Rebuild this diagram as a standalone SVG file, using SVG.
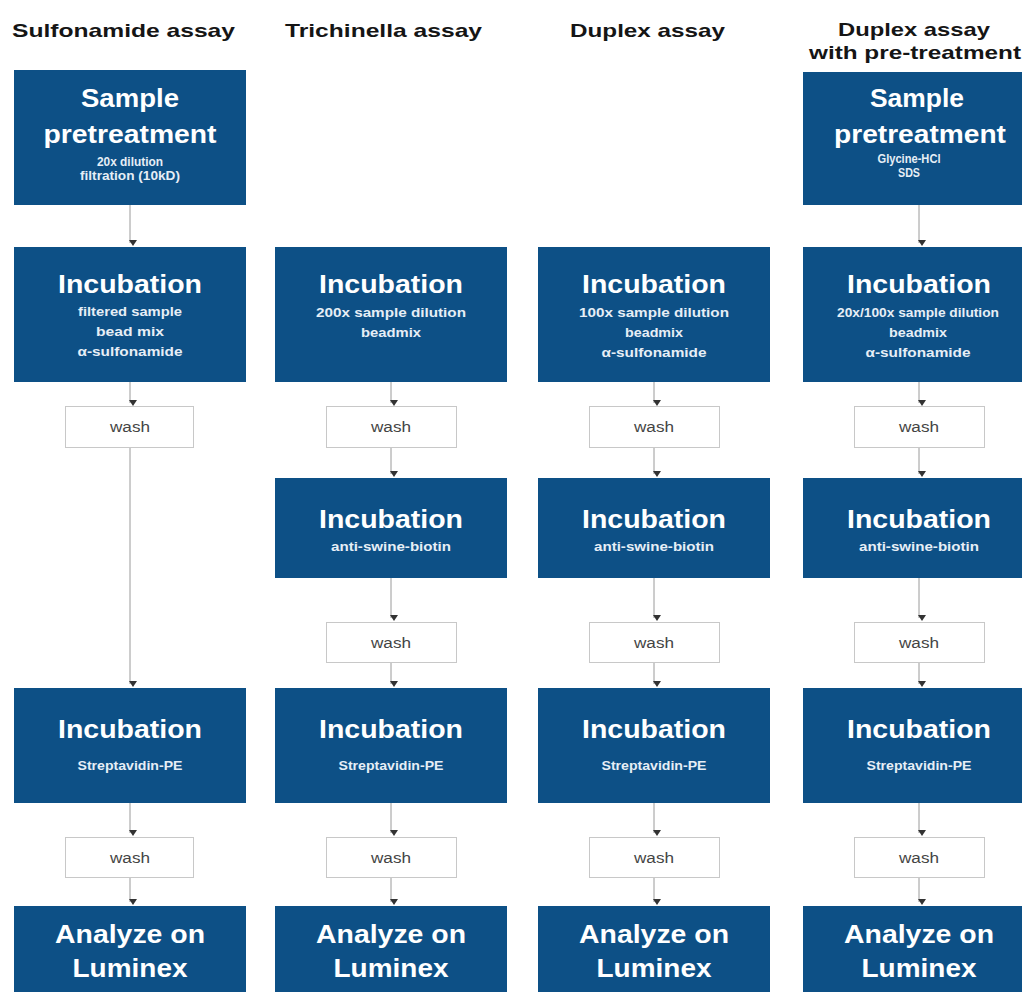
<svg xmlns="http://www.w3.org/2000/svg" width="1022" height="992" viewBox="0 0 1022 992">
<style>
.hd{font-family:"Liberation Sans",Arial,sans-serif;font-weight:bold;font-size:19px;fill:#151515;text-anchor:middle}
.box{fill:#0d5086}
.wb{fill:#ffffff;stroke:#c8c8c8;stroke-width:1}
.t{font-family:"Liberation Sans",Arial,sans-serif;font-weight:bold;font-size:26px;fill:#ffffff;text-anchor:middle}
.s{font-family:"Liberation Sans",Arial,sans-serif;font-weight:bold;font-size:12px;fill:#e6eef6;text-anchor:middle}
.w{font-family:"Liberation Sans",Arial,sans-serif;font-size:14px;fill:#444444;text-anchor:middle}
.c{stroke:#9a9a9a;stroke-width:1;fill:none;marker-end:url(#ah)}
</style>
<defs>
<marker id="ah" markerUnits="userSpaceOnUse" markerWidth="8" markerHeight="8" viewBox="0 0 8 8" refX="4" refY="7" orient="auto-start-reverse">
<path d="M0,1 L8,1 L4,7 Z" fill="#333333" transform="rotate(-90 4 4)"/>
</marker>
</defs>
<rect width="1022" height="992" fill="#ffffff"/>

<g id="headers">
<text class="hd" x="123.5" y="37" textLength="223" lengthAdjust="spacingAndGlyphs">Sulfonamide assay</text>
<text class="hd" x="383.5" y="37" textLength="197" lengthAdjust="spacingAndGlyphs">Trichinella assay</text>
<text class="hd" x="647.5" y="37" textLength="155" lengthAdjust="spacingAndGlyphs">Duplex assay</text>
<text class="hd" x="914" y="36" textLength="152" lengthAdjust="spacingAndGlyphs">Duplex assay</text>
<text class="hd" x="915" y="59" textLength="212" lengthAdjust="spacingAndGlyphs">with pre-treatment</text>
</g>

<g id="connectors">
<line class="c" x1="130" y1="205" x2="130" y2="243"/>
<line class="c" x1="130" y1="382" x2="130" y2="403"/>
<line class="c" x1="130" y1="448" x2="130" y2="684"/>
<line class="c" x1="130" y1="803" x2="130" y2="833"/>
<line class="c" x1="130" y1="878" x2="130" y2="902"/>

<line class="c" x1="391" y1="382" x2="391" y2="403"/>
<line class="c" x1="391" y1="448" x2="391" y2="474"/>
<line class="c" x1="391" y1="578" x2="391" y2="618"/>
<line class="c" x1="391" y1="662" x2="391" y2="684"/>
<line class="c" x1="391" y1="803" x2="391" y2="833"/>
<line class="c" x1="391" y1="878" x2="391" y2="902"/>

<line class="c" x1="654" y1="382" x2="654" y2="403"/>
<line class="c" x1="654" y1="448" x2="654" y2="474"/>
<line class="c" x1="654" y1="578" x2="654" y2="618"/>
<line class="c" x1="654" y1="662" x2="654" y2="684"/>
<line class="c" x1="654" y1="803" x2="654" y2="833"/>
<line class="c" x1="654" y1="878" x2="654" y2="902"/>

<line class="c" x1="919" y1="205" x2="919" y2="243"/>
<line class="c" x1="919" y1="382" x2="919" y2="403"/>
<line class="c" x1="919" y1="448" x2="919" y2="474"/>
<line class="c" x1="919" y1="578" x2="919" y2="618"/>
<line class="c" x1="919" y1="662" x2="919" y2="684"/>
<line class="c" x1="919" y1="803" x2="919" y2="833"/>
<line class="c" x1="919" y1="878" x2="919" y2="902"/>
</g>

<!-- Column 1: Sulfonamide -->
<g id="c1-pre">
<rect class="box" x="14" y="70" width="232" height="135"/>
<text class="t" x="130" y="107" textLength="98" lengthAdjust="spacingAndGlyphs">Sample</text>
<text class="t" x="130" y="143" textLength="173" lengthAdjust="spacingAndGlyphs">pretreatment</text>
<text class="s" x="130" y="166" font-size="11" textLength="66" lengthAdjust="spacingAndGlyphs">20x dilution</text>
<text class="s" x="130" y="180" font-size="11" textLength="100" lengthAdjust="spacingAndGlyphs">filtration (10kD)</text>
</g>
<g id="c1-inc1">
<rect class="box" x="14" y="247" width="232" height="135"/>
<text class="t" x="130" y="293" textLength="144" lengthAdjust="spacingAndGlyphs">Incubation</text>
<text class="s" x="130" y="316" textLength="104" lengthAdjust="spacingAndGlyphs">filtered sample</text>
<text class="s" x="130" y="336" textLength="68" lengthAdjust="spacingAndGlyphs">bead mix</text>
<text class="s" x="130" y="356" textLength="105" lengthAdjust="spacingAndGlyphs">α-sulfonamide</text>
</g>
<g id="c1-wash1">
<rect class="wb" x="65.5" y="406.5" width="128" height="41"/>
<text class="w" x="130" y="432" textLength="40" lengthAdjust="spacingAndGlyphs">wash</text>
</g>
<g id="c1-inc3">
<rect class="box" x="14" y="688" width="232" height="115"/>
<text class="t" x="130" y="738" textLength="144" lengthAdjust="spacingAndGlyphs">Incubation</text>
<text class="s" x="130" y="770" textLength="105" lengthAdjust="spacingAndGlyphs">Streptavidin-PE</text>
</g>
<g id="c1-wash3">
<rect class="wb" x="65.5" y="837.5" width="128" height="40"/>
<text class="w" x="130" y="863" textLength="40" lengthAdjust="spacingAndGlyphs">wash</text>
</g>
<g id="c1-analyze">
<rect class="box" x="14" y="906" width="232" height="100"/>
<text class="t" x="130" y="943" textLength="150" lengthAdjust="spacingAndGlyphs">Analyze on</text>
<text class="t" x="130" y="977" textLength="115" lengthAdjust="spacingAndGlyphs">Luminex</text>
</g>

<!-- Column 2: Trichinella -->
<g id="c2-inc1">
<rect class="box" x="275" y="247" width="232" height="135"/>
<text class="t" x="391" y="293" textLength="144" lengthAdjust="spacingAndGlyphs">Incubation</text>
<text class="s" x="391" y="317" textLength="150" lengthAdjust="spacingAndGlyphs">200x sample dilution</text>
<text class="s" x="391" y="337" textLength="60" lengthAdjust="spacingAndGlyphs">beadmix</text>
</g>
<g id="c2-wash1">
<rect class="wb" x="326.5" y="406.5" width="130" height="41"/>
<text class="w" x="391" y="432" textLength="40" lengthAdjust="spacingAndGlyphs">wash</text>
</g>
<g id="c2-inc2">
<rect class="box" x="275" y="478" width="232" height="100"/>
<text class="t" x="391" y="528" textLength="144" lengthAdjust="spacingAndGlyphs">Incubation</text>
<text class="s" x="391" y="551" textLength="120" lengthAdjust="spacingAndGlyphs">anti-swine-biotin</text>
</g>
<g id="c2-wash2">
<rect class="wb" x="326.5" y="622.5" width="130" height="40"/>
<text class="w" x="391" y="648" textLength="40" lengthAdjust="spacingAndGlyphs">wash</text>
</g>
<g id="c2-inc3">
<rect class="box" x="275" y="688" width="232" height="115"/>
<text class="t" x="391" y="738" textLength="144" lengthAdjust="spacingAndGlyphs">Incubation</text>
<text class="s" x="391" y="770" textLength="105" lengthAdjust="spacingAndGlyphs">Streptavidin-PE</text>
</g>
<g id="c2-wash3">
<rect class="wb" x="326.5" y="837.5" width="130" height="40"/>
<text class="w" x="391" y="863" textLength="40" lengthAdjust="spacingAndGlyphs">wash</text>
</g>
<g id="c2-analyze">
<rect class="box" x="275" y="906" width="232" height="100"/>
<text class="t" x="391" y="943" textLength="150" lengthAdjust="spacingAndGlyphs">Analyze on</text>
<text class="t" x="391" y="977" textLength="115" lengthAdjust="spacingAndGlyphs">Luminex</text>
</g>

<!-- Column 3: Duplex -->
<g id="c3-inc1">
<rect class="box" x="538" y="247" width="232" height="135"/>
<text class="t" x="654" y="293" textLength="144" lengthAdjust="spacingAndGlyphs">Incubation</text>
<text class="s" x="654" y="317" textLength="150" lengthAdjust="spacingAndGlyphs">100x sample dilution</text>
<text class="s" x="654" y="337" textLength="58" lengthAdjust="spacingAndGlyphs">beadmix</text>
<text class="s" x="654" y="357" textLength="105" lengthAdjust="spacingAndGlyphs">α-sulfonamide</text>
</g>
<g id="c3-wash1">
<rect class="wb" x="589.5" y="406.5" width="130" height="41"/>
<text class="w" x="654" y="432" textLength="40" lengthAdjust="spacingAndGlyphs">wash</text>
</g>
<g id="c3-inc2">
<rect class="box" x="538" y="478" width="232" height="100"/>
<text class="t" x="654" y="528" textLength="144" lengthAdjust="spacingAndGlyphs">Incubation</text>
<text class="s" x="654" y="551" textLength="120" lengthAdjust="spacingAndGlyphs">anti-swine-biotin</text>
</g>
<g id="c3-wash2">
<rect class="wb" x="589.5" y="622.5" width="130" height="40"/>
<text class="w" x="654" y="648" textLength="40" lengthAdjust="spacingAndGlyphs">wash</text>
</g>
<g id="c3-inc3">
<rect class="box" x="538" y="688" width="232" height="115"/>
<text class="t" x="654" y="738" textLength="144" lengthAdjust="spacingAndGlyphs">Incubation</text>
<text class="s" x="654" y="770" textLength="105" lengthAdjust="spacingAndGlyphs">Streptavidin-PE</text>
</g>
<g id="c3-wash3">
<rect class="wb" x="589.5" y="837.5" width="130" height="40"/>
<text class="w" x="654" y="863" textLength="40" lengthAdjust="spacingAndGlyphs">wash</text>
</g>
<g id="c3-analyze">
<rect class="box" x="538" y="906" width="232" height="100"/>
<text class="t" x="654" y="943" textLength="150" lengthAdjust="spacingAndGlyphs">Analyze on</text>
<text class="t" x="654" y="977" textLength="115" lengthAdjust="spacingAndGlyphs">Luminex</text>
</g>

<!-- Column 4: Duplex with pre-treatment -->
<g id="c4-pre">
<rect class="box" x="803" y="72" width="232" height="133"/>
<text class="t" x="917" y="107" textLength="94" lengthAdjust="spacingAndGlyphs">Sample</text>
<text class="t" x="920" y="143" textLength="172" lengthAdjust="spacingAndGlyphs">pretreatment</text>
<text class="s" x="909" y="163" font-size="11" textLength="63" lengthAdjust="spacingAndGlyphs">Glycine-HCl</text>
<text class="s" x="909" y="177" font-size="11" textLength="22" lengthAdjust="spacingAndGlyphs">SDS</text>
</g>
<g id="c4-inc1">
<rect class="box" x="803" y="247" width="232" height="135"/>
<text class="t" x="919" y="293" textLength="144" lengthAdjust="spacingAndGlyphs">Incubation</text>
<text class="s" x="918" y="317" textLength="162" lengthAdjust="spacingAndGlyphs">20x/100x sample dilution</text>
<text class="s" x="918" y="337" textLength="58" lengthAdjust="spacingAndGlyphs">beadmix</text>
<text class="s" x="918" y="357" textLength="105" lengthAdjust="spacingAndGlyphs">α-sulfonamide</text>
</g>
<g id="c4-wash1">
<rect class="wb" x="854.5" y="406.5" width="130" height="41"/>
<text class="w" x="919" y="432" textLength="40" lengthAdjust="spacingAndGlyphs">wash</text>
</g>
<g id="c4-inc2">
<rect class="box" x="803" y="478" width="232" height="100"/>
<text class="t" x="919" y="528" textLength="144" lengthAdjust="spacingAndGlyphs">Incubation</text>
<text class="s" x="919" y="551" textLength="120" lengthAdjust="spacingAndGlyphs">anti-swine-biotin</text>
</g>
<g id="c4-wash2">
<rect class="wb" x="854.5" y="622.5" width="130" height="40"/>
<text class="w" x="919" y="648" textLength="40" lengthAdjust="spacingAndGlyphs">wash</text>
</g>
<g id="c4-inc3">
<rect class="box" x="803" y="688" width="232" height="115"/>
<text class="t" x="919" y="738" textLength="144" lengthAdjust="spacingAndGlyphs">Incubation</text>
<text class="s" x="919" y="770" textLength="105" lengthAdjust="spacingAndGlyphs">Streptavidin-PE</text>
</g>
<g id="c4-wash3">
<rect class="wb" x="854.5" y="837.5" width="130" height="40"/>
<text class="w" x="919" y="863" textLength="40" lengthAdjust="spacingAndGlyphs">wash</text>
</g>
<g id="c4-analyze">
<rect class="box" x="803" y="906" width="232" height="100"/>
<text class="t" x="919" y="943" textLength="150" lengthAdjust="spacingAndGlyphs">Analyze on</text>
<text class="t" x="919" y="977" textLength="115" lengthAdjust="spacingAndGlyphs">Luminex</text>
</g>
</svg>
